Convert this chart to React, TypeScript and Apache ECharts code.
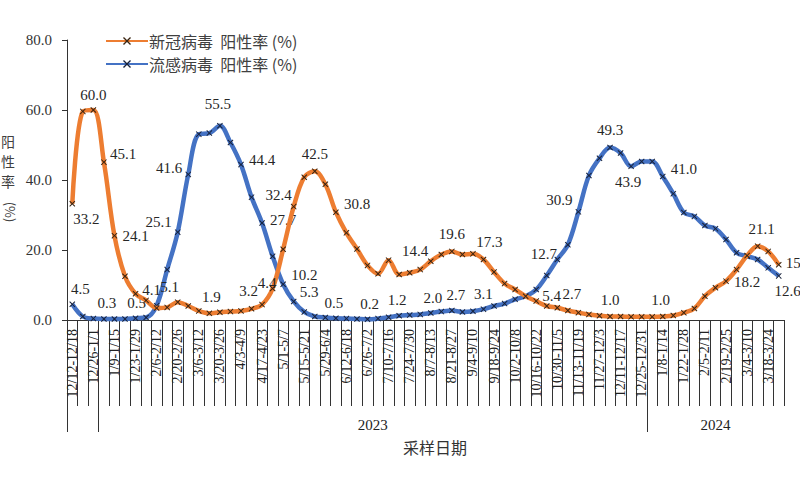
import React, { useEffect, useRef } from 'react';
import * as echarts from 'echarts';

const weeks = [
  '12/12-12/18', '12/19-12/25', '12/26-1/1', '1/2-1/8', '1/9-1/15', '1/16-1/22', '1/23-1/29', '1/30-2/5',
  '2/6-2/12', '2/13-2/19', '2/20-2/26', '2/27-3/5', '3/6-3/12', '3/13-3/19', '3/20-3/26', '3/27-4/2',
  '4/3-4/9', '4/10-4/16', '4/17-4/23', '4/24-4/30', '5/1-5/7', '5/8-5/14', '5/15-5/21', '5/22-5/28',
  '5/29-6/4', '6/5-6/11', '6/12-6/18', '6/19-6/25', '6/26-7/2', '7/3-7/9', '7/10-7/16', '7/17-7/23',
  '7/24-7/30', '7/31-8/6', '8/7-8/13', '8/14-8/20', '8/21-8/27', '8/28-9/3', '9/4-9/10', '9/11-9/17',
  '9/18-9/24', '9/25-10/1', '10/2-10/8', '10/9-10/15', '10/16-10/22', '10/23-10/29', '10/30-11/5', '11/6-11/12',
  '11/13-11/19', '11/20-11/26', '11/27-12/3', '12/4-12/10', '12/11-12/17', '12/18-12/24', '12/25-12/31', '1/1-1/7',
  '1/8-1/14', '1/15-1/21', '1/22-1/28', '1/29-2/4', '2/5-2/11', '2/12-2/18', '2/19-2/25', '2/26-3/3',
  '3/4-3/10', '3/11-3/17', '3/18-3/24', '3/25-3/31',
];

const covidRate = [
  33.2, 59.6, 60.0, 45.1, 24.1, 12.5, 7.5, 5.6, 3.4, 3.6, 5.1, 4.0, 2.6, 1.9, 2.2, 2.4,
  2.6, 3.2, 4.4, 9.0, 20.2, 32.4, 40.8, 42.5, 38.8, 30.8, 24.9, 20.3, 15.6, 13.2, 17.1, 13.0,
  13.5, 14.4, 16.8, 18.7, 19.6, 18.7, 18.9, 17.3, 13.7, 10.4, 8.7, 6.8, 5.4, 4.0, 3.5, 2.7,
  2.1, 1.6, 1.2, 1.0, 1.0, 0.9, 0.9, 0.9, 1.0, 1.3, 2.1, 3.3, 6.8, 9.2, 11.1, 14.4,
  18.4, 21.1, 19.6, 15.8,
];

const fluRate = [
  4.5, 1.0, 0.4, 0.3, 0.3, 0.3, 0.5, 0.7, 4.1, 14.4, 25.1, 41.6, 53.1, 53.4, 55.5, 50.7,
  44.4, 35.1, 27.7, 18.2, 10.2, 5.3, 2.3, 1.0, 0.7, 0.5, 0.4, 0.3, 0.2, 0.4, 0.8, 1.2,
  1.4, 1.6, 2.0, 2.4, 2.7, 2.3, 2.5, 3.1, 4.0, 4.7, 5.9, 6.8, 8.7, 12.7, 17.3, 21.5,
  30.9, 41.3, 46.2, 49.3, 47.7, 43.9, 45.3, 45.3, 41.0, 36.1, 30.7, 29.6, 27.0, 26.1, 23.0, 19.2,
  18.2, 17.3, 14.9, 12.6,
];

const seriesNames = ['新冠病毒  阳性率 (%)', '流感病毒  阳性率 (%)'];
const yearNames = ['2023', '2024'];
// category counts: 2022 weeks, 2023 weeks, 2024 weeks
const yearWeekCounts = [3, 52, 13];
const yMax = 80;
const yStep = 20;

// label placement (style only): index -> [position, dx, dy]
const covidLabelStyle: Record<number, [string, number, number]> = {
  0: ['bottom', 14, 0], 2: ['top', 0, 0], 3: ['right', -2, -8], 4: ['right', 0, 0],
  10: ['top', -8, 0], 13: ['top', 2, -1], 17: ['top', -3, -2],
  18: ['top', 5, -6], 21: ['left', 6, -12], 23: ['top', 0, -2], 25: ['right', 0, -8],
  33: ['top', -5, -3], 36: ['top', 0, -2], 39: ['top', 6, -2], 44: ['right', -2, -5],
  47: ['top', 4, -1], 51: ['top', 0, -1], 56: ['top', -2, -1], 65: ['top', 4, -2], 67: ['right', -1, -2],
};
const fluLabelStyle: Record<number, [string, number, number]> = {
  0: ['top', 8, 0], 3: ['top', 3, 0], 6: ['top', 1, 0], 8: ['top', -5, 0], 10: ['left', 2, -10], 11: ['left', 2, -6],
  14: ['top', -2, -6], 16: ['right', 0, -5], 18: ['right', 0, -3], 20: ['right', 0, -9],
  21: ['right', -2, -9], 25: ['top', -2, 0], 28: ['top', 2, 0], 31: ['top', -2, 0], 34: ['top', 2, 0],
  36: ['top', 4, 0], 39: ['top', 0, 0], 45: ['top', -3, -6], 48: ['left', 2, -12], 51: ['top', 0, -2],
  53: ['bottom', -3, 0], 56: ['right', 0, -8], 64: ['bottom', 0, 10], 67: ['bottom', 9, 0],
};

const xSymbol = 'path://M0,1.2 L1.2,0 L5,3.8 L8.8,0 L10,1.2 L6.2,5 L10,8.8 L8.8,10 L5,6.2 L1.2,10 L0,8.8 L3.8,5 Z';

function buildData(values: number[], styleMap: Record<number, [string, number, number]>) {
  return values.map((v, i) => {
    const s = styleMap[i];
    if (!s) return v;
    return {
      value: v,
      label: { show: true, position: s[0], offset: [s[1], s[2]] },
    };
  });
}

export default function App() {
  const ref = useRef<HTMLDivElement>(null);
  useEffect(() => {
    if (!ref.current) return;
    document.body.style.margin = '0';
    const chart = echarts.init(ref.current, undefined, { renderer: 'svg' });
    const totalWeeks = weeks.length;
    const bounds: number[] = [];
    let acc = 0;
    yearWeekCounts.forEach((c) => { bounds.push(acc); acc += c; });
    const yearCenters = [
      (bounds[1] + bounds[2]) / 2,
      (bounds[2] + totalWeeks) / 2,
    ];
    const serif = '"Liberation Serif", "Times New Roman", serif';
    const cjk = '"Noto Sans CJK SC", sans-serif';
    const labelCommon = {
      show: false,
      fontFamily: serif,
      fontSize: 15,
      color: '#262626',
      formatter: (p: any) => Number(p.value).toFixed(1),
    };
    chart.setOption({
      animation: false,
      backgroundColor: '#ffffff',
      grid: { left: 67, right: 16, top: 40, bottom: 180, containLabel: false },
      legend: {
        orient: 'vertical',
        left: 100,
        top: 28,
        itemWidth: 42,
        itemHeight: 10,
        itemGap: 7,
        textStyle: { fontFamily: cjk, fontSize: 16, lineHeight: 16, color: '#404040', padding: [0, 0, 0, -4] },
        data: seriesNames,
      },
      xAxis: [
        {
          type: 'category',
          data: weeks,
          boundaryGap: true,
          axisLine: { show: true, lineStyle: { color: '#333', width: 1 } },
          axisTick: { show: true, interval: 0, length: 86, lineStyle: { color: '#333', width: 1 } },
          axisLabel: {
            interval: 1,
            rotate: 90,
            margin: 9,
            fontFamily: serif,
            fontSize: 14,
            color: '#222',
          },
          splitLine: { show: false },
        },
        {
          type: 'value',
          min: 0,
          max: totalWeeks,
          position: 'bottom',
          axisLine: { show: false },
          axisTick: {
            show: true,
            length: 112,
            customValues: [bounds[0], bounds[1], bounds[2]],
            lineStyle: { color: '#333', width: 1 },
          },
          axisLabel: {
            show: true,
            margin: 97,
            customValues: yearCenters,
            fontFamily: serif,
            fontSize: 15,
            color: '#222',
            formatter: (v: number) => {
              const k = yearCenters.findIndex((c) => Math.abs(c - v) < 0.01);
              return k >= 0 ? yearNames[k] : '';
            },
          },
          splitLine: { show: false },
        },
      ],
      yAxis: {
        type: 'value',
        min: 0,
        max: yMax,
        interval: yStep,
        axisLine: { show: true, lineStyle: { color: '#333', width: 1 } },
        axisTick: { show: true, length: 5, lineStyle: { color: '#333' } },
        axisLabel: {
          margin: 15,
          fontFamily: serif,
          fontSize: 15,
          color: '#333',
          formatter: (v: number) => v.toFixed(1),
        },
        splitLine: { show: false },
      },
      graphic: [
        {
          type: 'text',
          left: 1,
          top: 131,
          style: { text: '阳\n性\n率', font: `14px ${cjk}`, lineHeight: 20, fill: '#404040' },
        },
        {
          type: 'text',
          x: 10,
          y: 212,
          rotation: -Math.PI / 2,
          style: { text: '(%)', font: `13px ${cjk}`, fill: '#404040', align: 'center', verticalAlign: 'middle' },
        },
        {
          type: 'text',
          x: 435,
          y: 447,
          style: { text: '采样日期', font: `16px ${cjk}`, fill: '#333', align: 'center', verticalAlign: 'middle' },
        },
      ],
      series: [
        {
          name: seriesNames[1],
          type: 'line',
          data: buildData(fluRate, fluLabelStyle),
          smooth: 0.35,
          symbol: xSymbol,
          symbolSize: 6,
          showAllSymbol: true,
          itemStyle: { color: '#17223c' },
          lineStyle: { color: '#4472C4', width: 4.5 },
          label: labelCommon,
          z: 2,
        },
        {
          name: seriesNames[0],
          type: 'line',
          data: buildData(covidRate, covidLabelStyle),
          smooth: 0.35,
          symbol: xSymbol,
          symbolSize: 6,
          showAllSymbol: true,
          itemStyle: { color: '#3a2410' },
          lineStyle: { color: '#ED7D31', width: 4.5 },
          label: labelCommon,
          z: 3,
        },
      ],
    });
    return () => chart.dispose();
  }, []);
  return <div ref={ref} style={{ position: 'fixed', left: 0, top: 0, width: 800, height: 500 }} />;
}
